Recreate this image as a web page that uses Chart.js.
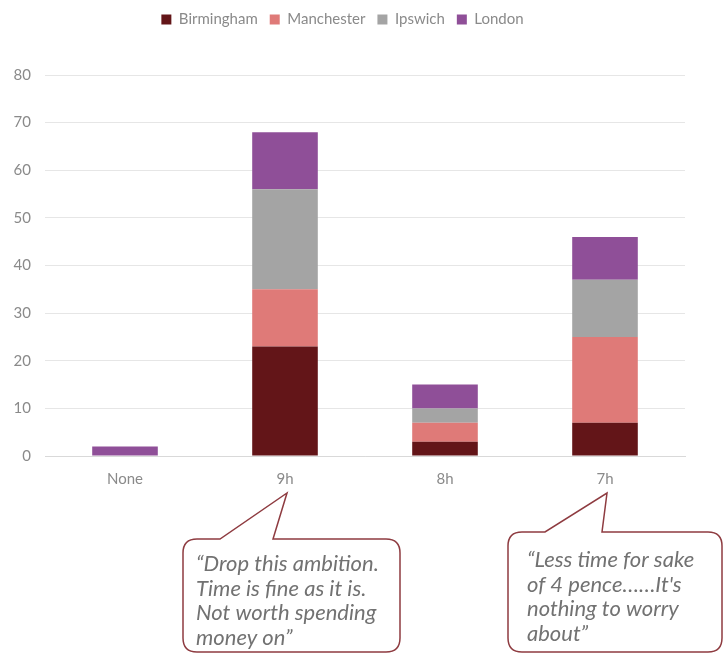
<!DOCTYPE html>
<html>
<head>
<meta charset="utf-8">
<script src="https://cdn.jsdelivr.net/npm/chart.js@4"></script>
<style>
  html, body { margin: 0; padding: 0; background: #fff; }
  #wrap { width: 725px; height: 654px; }
</style>
</head>
<body>
<div id="wrap"><canvas id="graph1" width="725" height="654"></canvas></div>
<script>
// data
const categories = ["None", "9h", "8h", "7h"];
const birmingham = [0, 23, 3, 7];
const manchester = [0, 12, 4, 18];
const ipswich = [0, 21, 3, 12];
const london = [2, 12, 5, 9];

const quotes = [
  ["\u201CDrop this ambition.", "Time is fine as it is.", "Not worth spending", "money on\u201D"],
  ["\u201CLess time for sake", "of 4 pence\u2026\u2026It's", "nothing to worry", "about\u201D"]
];

// make the legend block taller so the plot starts lower, like the original
const legendSpace = {
  id: "legendSpace",
  afterInit(chart) {
    const lg = chart.legend;
    if (!lg) return;
    const fit = lg.fit;
    lg.fit = function() {
      fit.call(this);
      this.height = 75;
    };
  }
};

// speech bubbles under 9h and 7h
const bubbles = {
  id: "bubbles",
  afterDraw(chart) {
    const c = chart.ctx;
    const xs = chart.scales.x;
    const boxes = [
      { cat: 1, l: 183, r: 400, t: 539, b: 652, p1: 220, p2: 273, tx: 196, ty: 564 },
      { cat: 3, l: 508, r: 722, t: 532, b: 652, p1: 545, p2: 602, tx: 527, ty: 560 }
    ];
    boxes.forEach(function(bx, i) {
      const tipX = xs.getPixelForValue(bx.cat) + 2;
      const tipY = 493;
      const rr = 14;
      c.save();
      c.beginPath();
      c.moveTo(bx.l + rr, bx.t);
      c.lineTo(bx.p1, bx.t);
      c.lineTo(tipX, tipY);
      c.lineTo(bx.p2, bx.t);
      c.lineTo(bx.r - rr, bx.t);
      c.quadraticCurveTo(bx.r, bx.t, bx.r, bx.t + rr);
      c.lineTo(bx.r, bx.b - rr);
      c.quadraticCurveTo(bx.r, bx.b, bx.r - rr, bx.b);
      c.lineTo(bx.l + rr, bx.b);
      c.quadraticCurveTo(bx.l, bx.b, bx.l, bx.b - rr);
      c.lineTo(bx.l, bx.t + rr);
      c.quadraticCurveTo(bx.l, bx.t, bx.l + rr, bx.t);
      c.closePath();
      c.fillStyle = "#ffffff";
      c.fill();
      c.lineWidth = 1.5;
      c.strokeStyle = "#8e3b40";
      c.stroke();
      c.fillStyle = "#727272";
      c.font = "italic 22px Lato";
      c.textBaseline = "middle";
      quotes[i].forEach(function(line, k) {
        c.fillText(line, bx.tx, bx.ty + k * 24.7);
      });
      c.restore();
    });
  }
};

const ctx = document.getElementById("graph1");

new Chart(ctx, {
  type: "bar",
  data: {
    labels: categories,
    datasets: [
      { label: "Birmingham", data: birmingham, backgroundColor: "#631518" },
      { label: "Manchester", data: manchester, backgroundColor: "#df7a78" },
      { label: "Ipswich", data: ipswich, backgroundColor: "#a4a4a4" },
      { label: "London", data: london, backgroundColor: "#8f4f98" }
    ]
  },
  options: {
    responsive: false,
    animation: false,
    layout: {
      padding: { left: 0, right: 40, top: 0, bottom: 160 }
    },
    datasets: {
      bar: { categoryPercentage: 1, barPercentage: 0.41 }
    },
    plugins: {
      legend: {
        display: true,
        position: "top",
        labels: {
          boxWidth: 10,
          boxHeight: 10,
          padding: 12,
          color: "#8a8a8a",
          font: { family: "Lato", size: 15 }
        }
      },
      tooltip: { enabled: false }
    },
    scales: {
      x: {
        stacked: true,
        grid: { display: false },
        border: { color: "#d9d9d9" },
        ticks: { color: "#8a8a8a", font: { family: "Lato", size: 15 }, padding: 6 }
      },
      y: {
        stacked: true,
        min: 0,
        max: 80,
        afterFit: function(s) { s.width = 45; },
        grid: { color: "#e6e6e6", drawTicks: false },
        border: { display: false },
        ticks: { stepSize: 10, color: "#8a8a8a", font: { family: "Lato", size: 15 }, padding: 14 }
      }
    }
  },
  plugins: [legendSpace, bubbles]
});
</script>
</body>
</html>
